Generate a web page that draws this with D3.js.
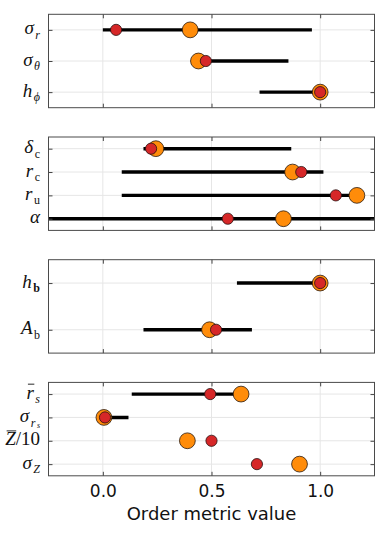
<!DOCTYPE html>
<html lang="en">
<head>
  <meta charset="UTF-8">
  <title>Order metrics</title>
  <script src="https://cdn.jsdelivr.net/npm/d3@7"></script>
  <style>
    body { margin: 0; background: #fff; }
  </style>
</head>
<body>
<div id="grafica"></div>
<script>
  // x axis
  xDomain = [-0.25, 1.25]
  xTicks = [0.0, 0.5, 1.0]
  xTitle = 'Order metric value'

  // label parts: [text, style, level]  style i=italic r=roman b=bold o=overline italic
  labels1 = [[['σ','i'],['r','i',1]], [['σ','i'],['θ','i',1]], [['h','i'],['ϕ','i',1]]]
  lo1     = [0.0, 0.474, 0.721]
  hi1     = [0.962, 0.854, 1.0]
  red1    = [0.061, 0.474, 1.0]
  orange1 = [0.402, 0.440, 1.0]

  labels2 = [[['δ','i'],['c','r',1]], [['r','i'],['c','r',1]], [['r','i'],['u','r',1]], [['α','i']]]
  lo2     = [0.187, 0.087, 0.087, -0.4]
  hi2     = [0.867, 1.015, 1.169, 1.4]
  red2    = [0.222, 0.913, 1.072, 0.575]
  orange2 = [0.244, 0.873, 1.169, 0.831]

  labels3 = [[['h','i'],['b','b',1]], [['A','i'],['b','r',1]]]
  lo3     = [0.617, 0.187]
  hi3     = [1.0, 0.686]
  red3    = [1.0, 0.521]
  orange3 = [1.0, 0.491]

  labels4 = [[['r','o'],['s','i',1]], [['σ','i'],['r','i',1],['s','i',2]], [['Z','o'],['/10','r']], [['σ','i'],['Z','i',1]]]
  lo4     = [0.133, 0.01, null, null]
  hi4     = [0.636, 0.118, null, null]
  red4    = [0.494, 0.010, 0.500, 0.709]
  orange4 = [0.636, 0.005, 0.389, 0.905]

  panels = [
    {labels: labels1, lo: lo1, hi: hi1, red: red1, orange: orange1},
    {labels: labels2, lo: lo2, hi: hi2, red: red2, orange: orange2},
    {labels: labels3, lo: lo3, hi: hi3, red: red3, orange: orange3},
    {labels: labels4, lo: lo4, hi: hi4, red: red4, orange: orange4}
  ]

  const ancho = 381
  const alto = 533
  const plotL = 48.5
  const plotR = 374.5
  const panelH = 93.4
  const panelStep = 122.7
  const firstTop = 14.3

  const svg = d3.select('#grafica').append('svg')
    .attr('width', ancho)
    .attr('height', alto)
    .style('display', 'block')

  const x = d3.scaleLinear().domain(xDomain).range([plotL, plotR])

  const mathFont = '"Liberation Serif", "DejaVu Serif", serif'
  const sizes = [19, 12, 8]
  const offs = [0, 4.5, 6.3]   // cumulative baseline shift per level

  panels.forEach(function(p, k) {
    const pTop = firstTop + k * panelStep
    const pBot = pTop + panelH
    const n = p.labels.length
    const rows = d3.range(1, n + 1)
    const y = d3.scaleLinear().domain([0.5, n + 0.5]).range([pTop, pBot])

    const g = svg.append('g')

    // grid
    g.selectAll('.vgrid').data(xTicks).enter().append('line')
      .attr('x1', d => x(d)).attr('x2', d => x(d))
      .attr('y1', pTop).attr('y2', pBot)
      .attr('stroke', '#e6e6e6').attr('stroke-width', 1)
    g.selectAll('.hgrid').data(rows).enter().append('line')
      .attr('x1', plotL).attr('x2', plotR)
      .attr('y1', d => y(d)).attr('y2', d => y(d))
      .attr('stroke', '#e6e6e6').attr('stroke-width', 1)

    // clip
    const clipId = 'clip' + k
    g.append('clipPath').attr('id', clipId).append('rect')
      .attr('x', plotL).attr('y', pTop).attr('width', plotR - plotL).attr('height', panelH)

    const marks = g.append('g').attr('clip-path', 'url(#' + clipId + ')')

    const lineRows = rows.filter(r => p.lo[r - 1] !== null)
    marks.selectAll('.range').data(lineRows).enter().append('line')
      .attr('x1', d => x(p.lo[d - 1])).attr('x2', d => x(p.hi[d - 1]))
      .attr('y1', d => y(d)).attr('y2', d => y(d))
      .attr('stroke', '#000').attr('stroke-width', 3.4)

    marks.selectAll('.orange').data(rows).enter().append('circle')
      .attr('cx', d => x(p.orange[d - 1])).attr('cy', d => y(d))
      .attr('r', 7.9)
      .attr('fill', '#ff8c0a').attr('stroke', '#2a1a10').attr('stroke-width', 0.8)

    marks.selectAll('.red').data(rows).enter().append('circle')
      .attr('cx', d => x(p.red[d - 1])).attr('cy', d => y(d))
      .attr('r', 5.6)
      .attr('fill', '#d62728').attr('stroke', '#2a1010').attr('stroke-width', 0.8)

    // axes with inner ticks
    const axB = d3.axisBottom(x).tickValues(xTicks).tickSize(-4)
    if (k == panels.length - 1) {
      axB.tickFormat(d3.format('.1f')).tickPadding(9)
    } else {
      axB.tickFormat('')
    }
    const gb = g.append('g').attr('transform', 'translate(0,' + pBot + ')').call(axB)
    g.append('g').attr('transform', 'translate(0,' + pTop + ')')
      .call(d3.axisTop(x).tickValues(xTicks).tickSize(-4).tickFormat(''))
    g.append('g').attr('transform', 'translate(' + plotL + ',0)')
      .call(d3.axisLeft(y).tickValues(rows).tickSize(-4).tickFormat(''))
    g.append('g').attr('transform', 'translate(' + plotR + ',0)')
      .call(d3.axisRight(y).tickValues(rows).tickSize(-4).tickFormat(''))

    g.selectAll('.domain').remove()
    g.selectAll('.tick line').attr('stroke', '#444')
    gb.selectAll('.tick text')
      .attr('font-family', '"DejaVu Sans", sans-serif')
      .attr('font-size', 17).attr('fill', '#111')

    g.append('rect')
      .attr('x', plotL).attr('y', pTop).attr('width', plotR - plotL).attr('height', panelH)
      .attr('fill', 'none').attr('stroke', '#4a4a4a').attr('stroke-width', 1)

    // y labels (math-style)
    p.labels.forEach(function(parts, i) {
      const t = g.append('text')
        .attr('x', 40).attr('y', y(i + 1) + 4.6)
        .attr('text-anchor', 'end')
        .attr('font-family', mathFont)
        .attr('fill', '#111')
      let level = 0
      let idx = 0
      const overs = []
      parts.forEach(function(pt) {
        const lv = pt[2] || 0
        const ts = t.append('tspan').text(pt[0])
          .attr('font-size', sizes[lv])
          .attr('dy', offs[lv] - offs[level])
        if (lv > 0) ts.attr('dx', 1.5)
        if (pt[1] == 'i' || pt[1] == 'o') ts.attr('font-style', 'italic')
        if (pt[1] == 'b') ts.attr('font-weight', 'bold')
        if (pt[1] == 'o') overs.push([idx, pt[0].length])
        idx += pt[0].length
        level = lv
      })
      const node = t.node()
      overs.forEach(function(o) {
        const a = node.getExtentOfChar(o[0])
        const b = node.getExtentOfChar(o[0] + o[1] - 1)
        g.append('line')
          .attr('x1', a.x + 1.5).attr('x2', b.x + b.width + 0.5)
          .attr('y1', a.y + 2.5).attr('y2', a.y + 2.5)
          .attr('stroke', '#111').attr('stroke-width', 0.9)
      })
    })
  })

  svg.append('text')
    .attr('x', (plotL + plotR) / 2).attr('y', 519.5)
    .attr('text-anchor', 'middle')
    .attr('font-family', '"DejaVu Sans", sans-serif')
    .attr('font-size', 18).attr('fill', '#111')
    .text(xTitle)
</script>
</body>
</html>
